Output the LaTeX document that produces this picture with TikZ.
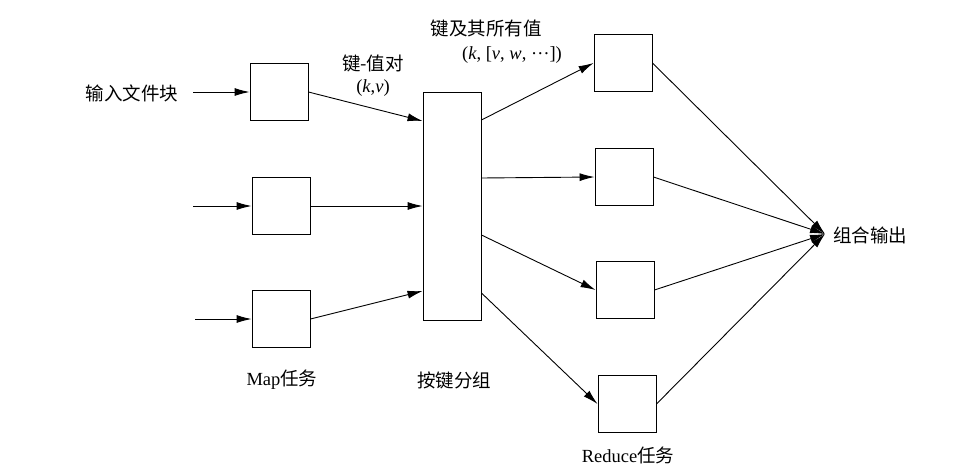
\documentclass[tikz,border=0pt]{standalone}
\usepackage{fontspec}
\setmainfont{Liberation Serif}
\newfontfamily\cjk{Noto Sans CJK SC}
\usetikzlibrary{arrows.meta,calc}
\begin{document}
\begin{tikzpicture}[x=1pt,y=-1pt,
  box/.style={draw,line width=0.9pt,minimum width=58pt,minimum height=57pt,inner sep=0pt},
  arr/.style={line width=0.9pt,-{Latex[length=15pt,width=8pt]}},
  lbl/.style={font=\fontsize{18.5}{21}\selectfont,inner sep=0pt}]
\useasboundingbox (0,0) rectangle (960,471);
% map boxes
\node[box] (m1) at (279,92) {};
\node[box] (m2) at (281,206) {};
\node[box] (m3) at (281,319) {};
% group box
\node[box,minimum height=228pt] (g) at (452,206) {};
% reduce boxes
\node[box] (r1) at (623,63) {};
\node[box] (r2) at (624,177) {};
\node[box] (r3) at (625,290) {};
\node[box] (r4) at (627,404) {};
% labels
\node[lbl] (in) at (132,93) {\cjk 输入文件块};
\node[lbl] (kv1) at (373,63) {\cjk 键-值对};
\node[lbl] (kv2) at (373,88) {(\textit{k},\textit{v})};
\node[lbl] (ka1) at (486,28) {\cjk 键及其所有值};
\node[lbl] (ka2) at (512,55) {(\textit{k}, [\textit{v}, \textit{w}, \raisebox{0.27em}{…}])};
\node[lbl] (maplbl) at (282,380) {Map{\cjk 任务}};
\node[lbl] (grplbl) at (454,380) {\cjk 按键分组};
\node[lbl] (redlbl) at (628,455) {Reduce{\cjk 任务}};
\node[lbl,anchor=west] (out) at (833,235) {\cjk 组合输出};
% input arrows
\coordinate (s1) at (193,92);
\coordinate (s2) at (193,206);
\coordinate (s3) at (195,319);
\draw[arr] (s1) -- (m1.west);
\draw[arr] (s2) -- (m2.west);
\draw[arr] (s3) -- (m3.west);
% map to group
\draw[arr] (m1.east) -- (g.west |- 0,121);
\draw[arr] (m2.east) -- (g.west |- 0,206);
\draw[arr] (m3.east) -- (g.west |- 0,291);
% group to reduce
\draw[arr] (g.east |- 0,120) -- (r1.west);
\draw[arr] (g.east |- 0,178) -- (r2.west);
\draw[arr] (g.east |- 0,235) -- (r3.west);
\draw[arr] (g.east |- 0,293) -- (r4.west);
% reduce to output
\coordinate (o) at (825,234);
\draw[arr] (r1.east) -- (o);
\draw[arr] (r2.east) -- (o);
\draw[arr] (r3.east) -- (o);
\draw[arr] (r4.east) -- (o);
\end{tikzpicture}
\end{document}
